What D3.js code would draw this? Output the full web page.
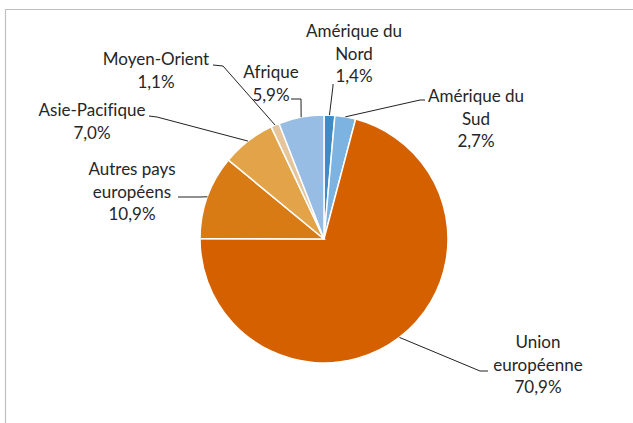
<!DOCTYPE html>
<html lang="fr">
<head>
   <meta charset="UTF-8">
   <title>Répartition</title>
   <script src="https://cdn.jsdelivr.net/npm/d3@7"></script>
   <style>
      body { margin: 0; background: white; }
      text { font-family: Lato, 'Open Sans', sans-serif; font-size: 17px; fill: #262626; font-variant-ligatures: none; }
   </style>
</head>
<body>
   <svg id="chart" width="633" height="423"></svg>
   <script>
      // data, clockwise from 12 o'clock
      const regions = ['Amérique du Nord', 'Amérique du Sud', 'Union européenne', 'Autres pays européens', 'Asie-Pacifique', 'Moyen-Orient', 'Afrique']
      const shares = [1.4, 2.7, 70.9, 10.9, 7.0, 1.1, 5.9]
      const labelLines = [
         ['Amérique du', 'Nord'],
         ['Amérique du', 'Sud'],
         ['Union', 'européenne'],
         ['Autres pays', 'européens'],
         ['Asie-Pacifique'],
         ['Moyen-Orient'],
         ['Afrique']
      ]
      const colors = ['#3d8cc7', '#7db3e0', '#d46000', '#d87b14', '#e3a348', '#e5c59c', '#97bde4']

      // label layout: text centre x, first baseline, leader start and knee
      const labelLayout = [
         { cx: 354, y: 37, leader: [[333, 84], [333, 86]] },
         { cx: 476, y: 102, leader: [[425, 100], [420, 100]] },
         { cx: 538, y: 348, leader: [[488, 371], [480, 371]] },
         { cx: 132, y: 175, leader: [[178, 197], [200, 197]] },
         { cx: 92, y: 116, leader: [[149, 116], [157, 117]] },
         { cx: 156, y: 65, leader: [[213, 65], [223, 66]] },
         { cx: 271, y: 78, leader: [[291, 99], [301, 99]] }
      ]

      const svg = d3.select('#chart')
      const cx = 324, cy = 239, R = 124
      const LINE_H = 22.5

      // frame
      svg.append('path')
         .attr('d', 'M5.5,423 V9.5 H633')
         .attr('fill', 'none')
         .attr('stroke', '#c0c0c0')
         .attr('stroke-width', 1.2)

      const data = regions.map((r, i) => ({ region: r, value: shares[i], lines: labelLines[i], color: colors[i], layout: labelLayout[i] }))

      const pie = d3.pie().sort(null).value(d => d.value)
      const arcs = pie(data)
      const arc = d3.arc().innerRadius(0).outerRadius(R)

      const g = svg.append('g').attr('transform', `translate(${cx},${cy})`)

      g.selectAll('path.slice')
         .data(arcs)
         .enter()
         .append('path')
            .attr('class', 'slice')
            .attr('d', arc)
            .attr('fill', d => d.data.color)
            .attr('stroke', 'white')
            .attr('stroke-width', 1.5)

      // leaders + labels
      const fmt = v => v.toFixed(1).replace('.', ',') + '%'
      arcs.forEach(a => {
         const mid = (a.startAngle + a.endAngle) / 2
         const end = [cx + R * Math.sin(mid), cy - R * Math.cos(mid)]
         const pts = a.data.layout.leader.concat([end])
         svg.append('path')
            .attr('d', d3.line()(pts))
            .attr('fill', 'none')
            .attr('stroke', '#222')
            .attr('stroke-width', 1)

         const t = svg.append('text')
            .attr('text-anchor', 'middle')
            .attr('x', a.data.layout.cx)
            .attr('y', a.data.layout.y)
         const lines = a.data.lines.concat([fmt(a.data.value)])
         lines.forEach((l, i) => {
            t.append('tspan')
               .attr('x', a.data.layout.cx)
               .attr('dy', i === 0 ? 0 : LINE_H)
               .text(l)
         })
      })
   </script>
</body>
</html>
